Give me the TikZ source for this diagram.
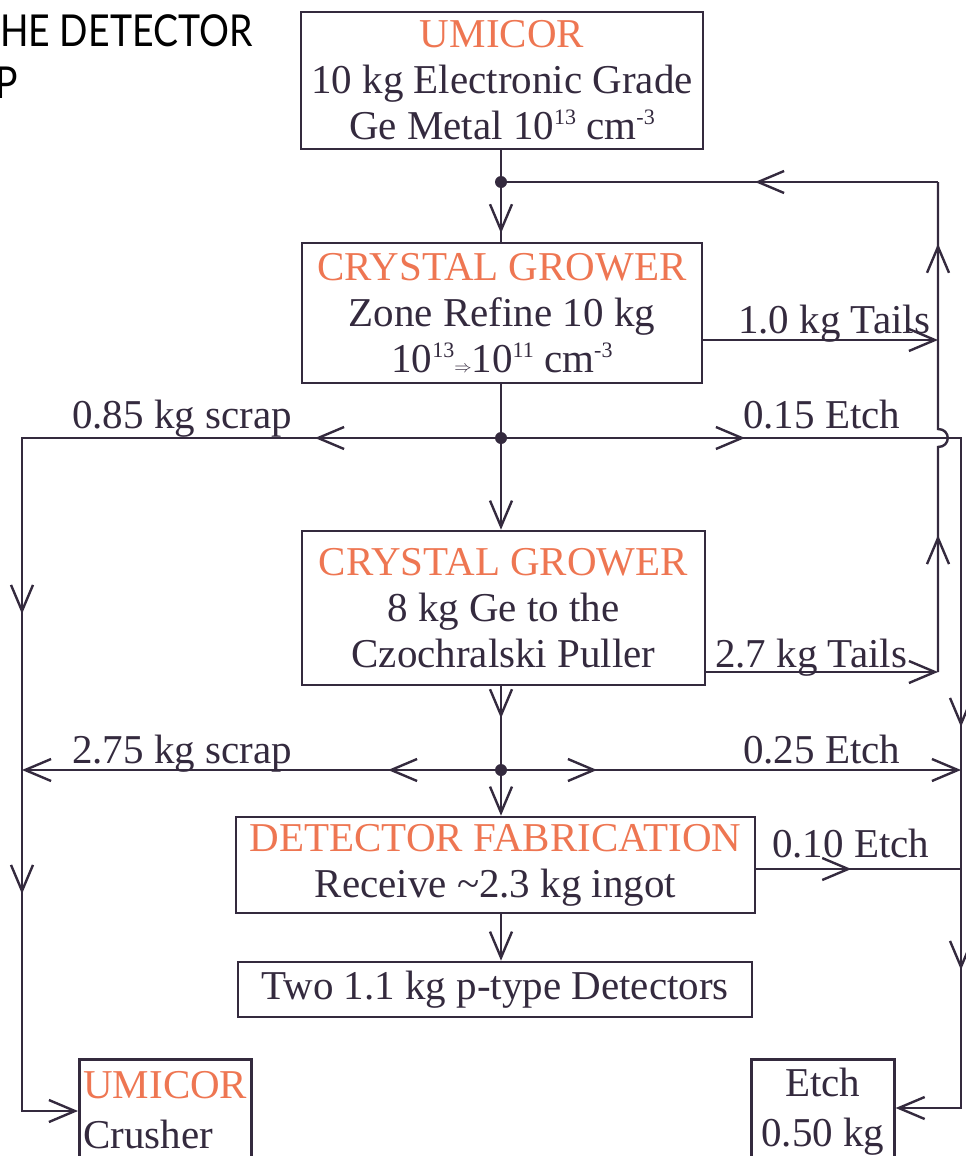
\documentclass[tikz,border=0pt]{standalone}
\usepackage{fontspec}
\setmainfont{Liberation Serif}
\newfontfamily\titlefont{Lato}
\usetikzlibrary{arrows.meta,decorations.markings,calc}
\definecolor{ink}{RGB}{52,42,62}
\definecolor{orng}{RGB}{238,118,82}
\newcommand\mysup[1]{\raisebox{15pt}{\fontsize{22}{22}\selectfont #1}}
\begin{document}
\begin{tikzpicture}[x=1pt,y=-1pt,
  >={Straight Barb[length=26pt,width=22pt]},
  box/.style={draw=ink, line width=2.6pt, inner sep=0pt, align=center, text=ink,
    font=\fontsize{41}{46}\selectfont},
  lbl/.style={anchor=base west, inner sep=0pt, text=ink, font=\fontsize{41}{46}\selectfont},
  flow/.style={draw=ink, line width=2.4pt},
  tipat/.style={postaction={decorate,decoration={markings,mark=at position #1 with {\arrow{>}}}}},
  jdot/.style={fill=ink, circle, inner sep=0pt, minimum size=12pt},
  ttl/.style={anchor=base west, inner sep=0pt, text=black, font=\titlefont\fontsize{44}{48}\selectfont}
]
\useasboundingbox (0,0) rectangle (966,1156);
\clip (0,0) rectangle (966,1156);

% title (cropped)
\node[ttl] (t1) at (0,47) {\scalebox{0.85}[1]{HE DETECTOR}};
\node[ttl] (t2) at (-5,98) {\scalebox{0.85}[1]{P}};

% boxes
\node[box, minimum width=402, minimum height=137] (b1) at (502,80.5)
  {\textcolor{orng}{UMICOR}\\10 kg Electronic Grade\\Ge Metal 10\mysup{13} cm\mysup{-3}};
\node[box, minimum width=400, minimum height=140] (b2) at (502,313)
  {\textcolor{orng}{CRYSTAL GROWER}\\Zone Refine 10 kg\\10\mysup{13}{\fontsize{18}{18}\selectfont$\Rightarrow$}10\mysup{11} cm\mysup{-3}};
\node[box, minimum width=403, minimum height=154] (b3) at (503.5,608)
  {\textcolor{orng}{CRYSTAL GROWER}\\8 kg Ge to the\\Czochralski Puller};
\node[box, minimum width=519, minimum height=96] (b4) at (495.5,865)
  {\textcolor{orng}{DETECTOR FABRICATION}\\Receive \textasciitilde2.3 kg ingot};
\node[box, minimum width=514, minimum height=55] (b5) at (495,989.5)
  {Two 1.1 kg p-type Detectors};
\node[box, align=left, anchor=north west, minimum width=171, minimum height=102, inner xsep=4pt,
  font=\fontsize{41}{50}\selectfont] (b6) at (78,1058)
  {\textcolor{orng}{UMICOR}\\Crusher};
\node[box, anchor=north west, minimum width=143, minimum height=104,
  font=\fontsize{41}{50}\selectfont] (b7) at (750,1058)
  {Etch\\0.50 kg};

% junctions
\coordinate (j1) at (501,182);
\coordinate (j2) at (501,438);
\coordinate (j3) at (501,770);
\coordinate (rA) at (938,182);
\coordinate (rT) at (938,340);
\coordinate (rB) at (938,672);
\coordinate (rX1) at (938,447);
\coordinate (rX2) at (938,429);
\coordinate (eA) at (961,438);
\coordinate (eM) at (961,770);
\coordinate (eN) at (961,869);
\coordinate (eB) at (961,1108);
\coordinate (lA) at (22,438);
\coordinate (lM) at (22,770);
\coordinate (lB) at (22,1111);

% main spine
\draw[flow, tipat=83pt] (b1.south -| j1) -- (j1) -- (b2.north -| j1);
\draw[flow, ->] (b2.south -| j2) -- (j2) -- (b3.north -| j2);
\draw[flow, tipat=32pt, ->] (b3.south -| j3) -- (j3) -- (b4.north -| j3);
\draw[flow, ->] (b4.south -| j3) -- (b5.north -| j3);

% return line (tails)
\draw[flow, tipat=137pt, tipat=440pt] (rB) -- (rX1) .. controls (951,447) and (951,429) .. (rX2) -- (rA);
\draw[flow, tipat=183pt] (rA) -- (j1);
\draw[flow, ->] (b2.east |- rT) -- (rT);
\draw[flow, ->] (b3.east |- rB) -- (rB);

% scrap to crusher
\draw[flow, tipat=186pt, tipat=655pt, tipat=935pt, ->] (j2) -- (lA) -- (lB) -- (b6.west |- lB);
\draw[flow, tipat=113pt, ->] (j3) -- (lM);

% etch to etch box
\draw[flow, tipat=244pt, tipat=749pt, tipat=992pt, ->] (j2) -- (eA) -- (eB) -- (b7.east |- eB);
\draw[flow, tipat=96pt, ->] (j3) -- (eM);
\draw[flow, tipat=95pt] (b4.east |- eN) -- (eN);

% dots
\node[jdot] (d1) at (j1) {};
\node[jdot] (d2) at (j2) {};
\node[jdot] (d3) at (j3) {};

% labels
\node[lbl] (l1) at (738,333) {1.0 kg Tails};
\node[lbl] (l2) at (72,428) {0.85 kg scrap};
\node[lbl] (l3) at (743,428) {0.15 Etch};
\node[lbl] (l4) at (715,667) {2.7 kg Tails};
\node[lbl] (l5) at (72,763) {2.75 kg scrap};
\node[lbl] (l6) at (743,763) {0.25 Etch};
\node[lbl] (l7) at (772,857) {0.10 Etch};
\end{tikzpicture}
\end{document}
